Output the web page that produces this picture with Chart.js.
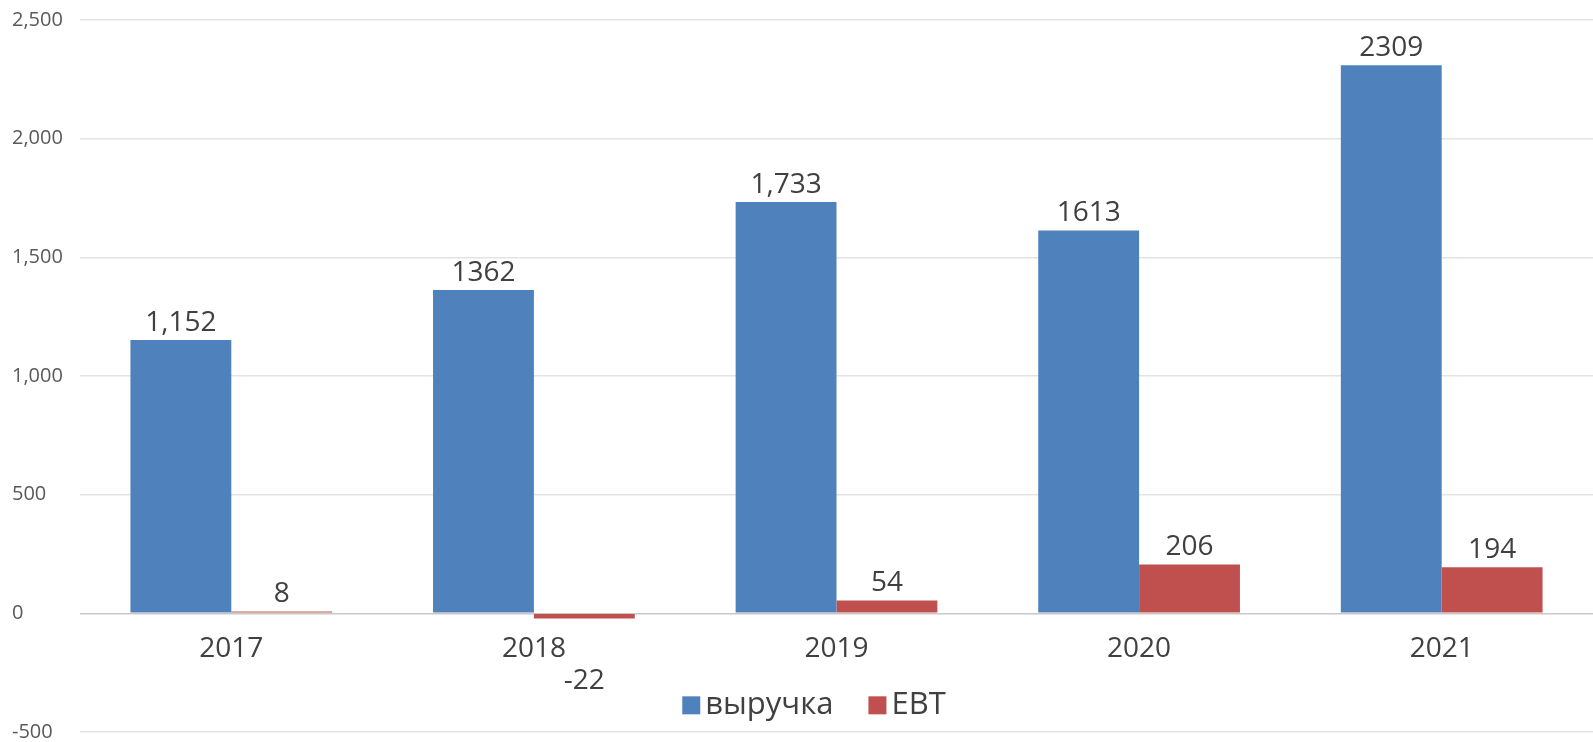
<!DOCTYPE html>
<html>
<head>
<meta charset="utf-8">
<script src="https://cdn.jsdelivr.net/npm/chart.js@4"></script>
<style>
  html, body { margin: 0; padding: 0; background: #fff; }
  #wrap { width: 1593px; height: 742px; }
</style>
</head>
<body>
<div id="wrap"><canvas id="myChart"></canvas></div>
<script>
const years = ["2017", "2018", "2019", "2020", "2021"];
const revenue = [1152, 1362, 1733, 1613, 2309];
const ebt = [8, -22, 54, 206, 194];
// подписи как на исходнике (формат у них разный)
const revenueLabels = ["1,152", "1362", "1,733", "1613", "2309"];
const ebtLabels = ["8", "-22", "54", "206", "194"];
const yTicks = [-500, 0, 500, 1000, 1500, 2000, 2500];

const FONT = "'Open Sans', 'DejaVu Sans', sans-serif";

const labelsPlugin = {
  id: "labelsPlugin",
  afterDatasetsDraw(chart) {
    const ctx = chart.ctx;
    const xs = chart.scales.x;
    const ys = chart.scales.y;
    const zero = ys.getPixelForValue(0);
    ctx.save();
    ctx.fillStyle = "#404040";
    ctx.font = "28px " + FONT;
    ctx.textAlign = "center";
    ctx.textBaseline = "middle";

    // подписи значений
    const texts = [revenueLabels, ebtLabels];
    chart.data.datasets.forEach((ds, di) => {
      chart.getDatasetMeta(di).data.forEach((bar, i) => {
        const v = ds.data[i];
        const y = v >= 0 ? bar.y - 17 : bar.y + 62;
        ctx.fillText(texts[di][i], bar.x, y);
      });
    });

    // подписи категорий под нулевой линией
    years.forEach((yr, i) => {
      ctx.fillText(yr, xs.getPixelForValue(i), zero + 36);
    });

    // легенда
    ctx.font = "31px " + FONT;
    const ly = zero + 92;
    const box = 18;
    const gap = 5;
    const spacing = 35;
    const items = chart.data.datasets.map((ds) => ({
      text: ds.label,
      color: ds.backgroundColor,
      w: box + gap + ctx.measureText(ds.label).width,
    }));
    const total = items.reduce((s, it) => s + it.w, 0) + spacing * (items.length - 1);
    let lx = 814 - total / 2;
    ctx.textAlign = "left";
    items.forEach((it) => {
      ctx.fillStyle = it.color;
      ctx.fillRect(lx, ly - box / 2, box, box);
      ctx.fillStyle = "#404040";
      ctx.fillText(it.text, lx + box + gap, ly);
      lx += it.w + spacing;
    });
    ctx.restore();
  },
};

new Chart(document.getElementById("myChart"), {
  type: "bar",
  data: {
    labels: years,
    datasets: [
      {
        label: "выручка",
        data: revenue,
        backgroundColor: "#4f81bd",
        categoryPercentage: 2 / 3,
        barPercentage: 1,
      },
      {
        label: "EBT",
        data: ebt,
        backgroundColor: "#c0504d",
        categoryPercentage: 2 / 3,
        barPercentage: 1,
      },
    ],
  },
  options: {
    responsive: true,
    maintainAspectRatio: false,
    animation: false,
    layout: {
      padding: { left: 12, top: 20, right: -12, bottom: 10 },
    },
    plugins: {
      legend: { display: false },
      tooltip: { enabled: false },
    },
    scales: {
      x: {
        display: false,
      },
      y: {
        min: -500,
        max: 2500,
        afterBuildTicks(scale) {
          scale.ticks = yTicks.map((v) => ({ value: v }));
        },
        afterFit(scale) {
          scale.width = 68;
        },
        border: { display: false },
        grid: {
          drawTicks: false,
          lineWidth: 1.5,
          color: (c) => (c.tick && c.tick.value === 0 ? "#c8c8c8" : "#e3e3e3"),
        },
        ticks: {
          crossAlign: "far",
          padding: 0,
          color: "#595959",
          font: { family: FONT, size: 20, lineHeight: 1 },
          callback: (v) => v.toLocaleString("en-US"),
        },
      },
    },
  },
  plugins: [labelsPlugin],
});
</script>
</body>
</html>
